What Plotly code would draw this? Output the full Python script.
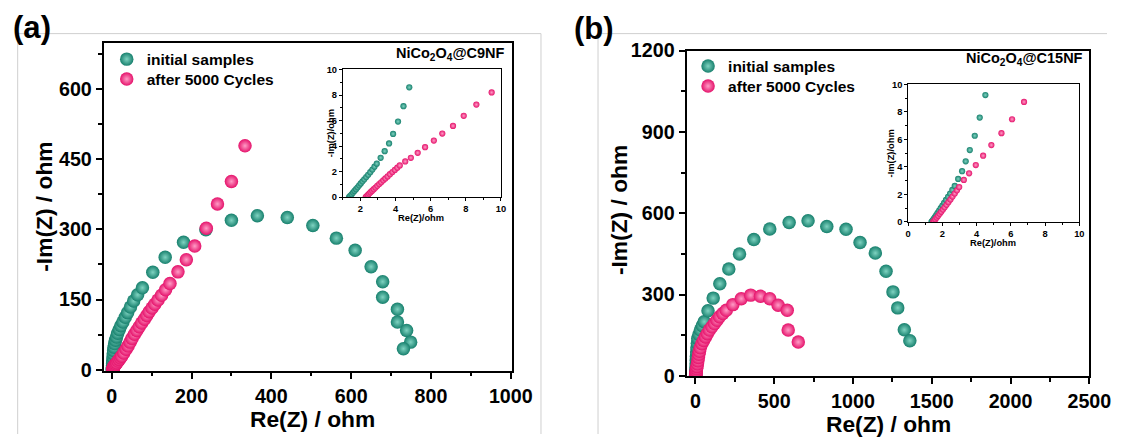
import plotly.graph_objects as go

# ---------------- data: panel (a) NiCo2O4@C9NF ----------------
a_init_re = [1.5, 1.6, 1.8, 2.0, 2.3, 2.7, 3.2, 3.9, 4.8, 6, 7.5, 9.5, 12, 15, 19, 23, 28, 34, 40, 47, 55, 65, 77,
             103, 134, 180, 236, 300, 365, 440, 504, 563, 610, 650, 679, 679, 716, 716, 739, 749, 731]
a_init_im = [0.3, 2, 5, 9, 14, 20, 27, 34, 41, 48, 56, 63, 70, 78, 86, 94, 102, 112, 122, 134, 147, 160, 175,
             208, 240, 272, 299, 319, 329, 325, 308, 281, 255, 220, 188, 155, 129, 102, 84, 59, 45]

a_aged_re = [2.3, 2.5, 2.8, 3.2, 3.8, 4.6, 5.6, 7, 8.7, 10.7, 13, 16, 19, 22, 25, 30, 36, 41, 46, 51, 57, 63, 69,
             75, 82, 88, 94, 101, 108, 116, 125, 135, 146, 166, 187, 208, 237, 265, 300, 334]
a_aged_im = [0.2, 0.8, 1.6, 2.6, 3.8, 5.2, 6.8, 8.6, 10.6, 12.8, 15, 18.5, 22, 25.5, 29, 36, 44, 51, 59, 67, 76, 84, 92,
             100, 108, 116, 124, 132, 140, 149, 159, 171, 184, 209, 235, 264, 302, 354, 402, 478]

# inset (a)
ia_init_re = [1.35, 1.42, 1.5, 1.58, 1.66, 1.75, 1.84, 1.93, 2.02, 2.12, 2.22, 2.33, 2.44, 2.56, 2.68, 2.8, 2.93,
              3.15, 3.38, 3.63, 3.86, 4.14, 4.45, 4.78]
ia_init_im = [0.0, 0.1, 0.22, 0.35, 0.48, 0.62, 0.77, 0.92, 1.07, 1.23, 1.39, 1.57, 1.75, 1.95, 2.16, 2.38, 2.62,
              3.08, 3.6, 4.2, 4.95, 5.92, 7.12, 8.6]
ia_aged_re = [2.3, 2.36, 2.43, 2.5, 2.58, 2.67, 2.76, 2.86, 2.96, 3.07, 3.18, 3.3, 3.42, 3.55, 3.68, 3.82, 3.96, 4.1,
              4.24, 4.55, 4.87, 5.26, 5.68, 6.18, 6.66, 7.27, 7.88, 8.6, 9.47]
ia_aged_im = [0.0, 0.08, 0.17, 0.27, 0.38, 0.5, 0.62, 0.75, 0.88, 1.02, 1.16, 1.31, 1.46, 1.62, 1.79, 1.96, 2.13, 2.3,
              2.48, 2.79, 3.08, 3.47, 3.91, 4.43, 4.98, 5.58, 6.37, 7.25, 8.2]

# ---------------- data: panel (b) NiCo2O4@C15NF ----------------
b_init_re = [1.4, 1.6, 2, 2.5, 3, 3.8, 4.6, 5.5, 6.5, 8, 10, 12.5, 15, 23, 32, 44, 56, 80, 113, 155, 212, 280, 371,
             472, 595, 715, 834, 956, 1045, 1142, 1210, 1254, 1284, 1326, 1361]
b_init_im = [0.3, 3, 8, 15, 23, 33, 45, 58, 72, 88, 104, 121, 138, 153, 169, 185, 200, 240, 287, 340, 394, 450, 503,
             542, 566, 572, 551, 541, 492, 453, 386, 310, 251, 170, 130]

b_aged_re = [1.5, 1.8, 2.3, 3, 4, 5.5, 7.5, 10, 13, 16, 19, 22, 26, 31, 41, 52, 64, 76, 89, 105, 121, 137, 153, 174,
             196, 238, 291, 351, 413, 472, 525, 583, 589, 653]
b_aged_im = [0.3, 2, 5, 9, 14, 20, 27, 35, 45, 56, 68, 80, 91, 104, 119, 131, 144, 156, 169, 181, 193, 205, 218, 230,
             242, 263, 285, 298, 294, 285, 261, 242, 169, 125]

# inset (b)
ib_init_re = [1.36, 1.42, 1.49, 1.56, 1.64, 1.72, 1.81, 1.9, 2.0, 2.1, 2.21, 2.33, 2.45, 2.58, 2.72,
              2.92, 3.15, 3.36, 3.6, 3.89, 4.18, 4.51]
ib_init_im = [0.0, 0.1, 0.22, 0.35, 0.5, 0.66, 0.83, 1.0, 1.19, 1.39, 1.6, 1.83, 2.07, 2.33, 2.62,
              3.13, 3.69, 4.41, 5.23, 6.27, 7.59, 9.23]
ib_aged_re = [1.46, 1.52, 1.59, 1.67, 1.75, 1.84, 1.93, 2.03, 2.13, 2.24, 2.35, 2.47, 2.59, 2.72, 2.85, 2.98,
              3.25, 3.56, 3.95, 4.38, 4.86, 5.45, 6.07, 6.77]
ib_aged_im = [0.0, 0.09, 0.2, 0.32, 0.45, 0.59, 0.74, 0.9, 1.07, 1.25, 1.44, 1.64, 1.85, 2.07, 2.3, 2.54,
              3.06, 3.54, 4.14, 4.82, 5.59, 6.46, 7.47, 8.73]

series_names = ["initial samples", "after 5000 Cycles"]
sample_labels = ["NiCo<sub>2</sub>O<sub>4</sub>@C9NF", "NiCo<sub>2</sub>O<sub>4</sub>@C15NF"]
panel_labels = ["(a)", "(b)"]

TEAL, TEAL_HI = "#17806d", "#7fd3c1"
PINK, PINK_HI = "#e5126b", "#ff9cc6"
FONT = "Liberation Sans, Arial, sans-serif"

# ---- layout geometry: reference-picture pixels -> figure paper coordinates ----
BODY = 8                      # default page body margin
SX, OX = 0.978, 2.5           # observed page -> picture mapping
SY, OY = 0.955, 8.7
FW, FH = 1120, 436            # figure size
FS = 1 / 0.965                # compensate overall shrink for font / marker sizes


def px(xr):
    return ((xr - OX) / SX - BODY) / FW


def py(yr):
    return 1 - ((yr - OY) / SY - BODY) / FH


def mk(color, hi, size):
    return dict(color=color, size=size * FS, line=dict(width=0),
                gradient=dict(type="radial", color=hi))


fig = go.Figure()

# panel (a)
fig.add_trace(go.Scatter(x=a_init_re, y=a_init_im, mode="markers", name=series_names[0],
                         marker=mk(TEAL, TEAL_HI, 13), xaxis="x", yaxis="y", legend="legend2"))
fig.add_trace(go.Scatter(x=a_aged_re, y=a_aged_im, mode="markers", name=series_names[1],
                         marker=mk(PINK, PINK_HI, 13), xaxis="x", yaxis="y", legend="legend3"))
fig.add_trace(go.Scatter(x=ia_init_re, y=ia_init_im, mode="markers", showlegend=False,
                         marker=mk(TEAL, TEAL_HI, 6), xaxis="x3", yaxis="y3"))
fig.add_trace(go.Scatter(x=ia_aged_re, y=ia_aged_im, mode="markers", showlegend=False,
                         marker=mk(PINK, PINK_HI, 6), xaxis="x3", yaxis="y3"))
# panel (b)
fig.add_trace(go.Scatter(x=b_init_re, y=b_init_im, mode="markers", name=series_names[0],
                         marker=mk(TEAL, TEAL_HI, 13), xaxis="x2", yaxis="y2", legend="legend4"))
fig.add_trace(go.Scatter(x=b_aged_re, y=b_aged_im, mode="markers", name=series_names[1],
                         marker=mk(PINK, PINK_HI, 13), xaxis="x2", yaxis="y2", legend="legend5"))
fig.add_trace(go.Scatter(x=ib_init_re, y=ib_init_im, mode="markers", showlegend=False,
                         marker=mk(TEAL, TEAL_HI, 6), xaxis="x4", yaxis="y4"))
fig.add_trace(go.Scatter(x=ib_aged_re, y=ib_aged_im, mode="markers", showlegend=False,
                         marker=mk(PINK, PINK_HI, 6), xaxis="x4", yaxis="y4"))


def xd(a, b):
    return [px(a), px(b)]


def yd(top, bottom):
    return [py(bottom), py(top)]


def main_axis(domain, rng, dtick, minor, anchor):
    return dict(domain=domain, range=rng, anchor=anchor, showgrid=False, zeroline=False,
                showline=True, linecolor="black", linewidth=2, mirror=True,
                ticks="outside", ticklen=6, tickwidth=2, tickcolor="black",
                tick0=0, dtick=dtick,
                minor=dict(dtick=minor, tick0=0, ticks="outside", ticklen=3.5, tickwidth=1.5,
                           tickcolor="black", showgrid=False),
                tickfont=dict(family=FONT, size=19 * FS, color="black", weight="bold"))


def inset_axis(domain, rng, anchor):
    return dict(domain=domain, range=rng, anchor=anchor, showgrid=False, zeroline=False,
                showline=True, linecolor="black", linewidth=1, mirror=True,
                ticks="outside", ticklen=3, tickwidth=1, tickcolor="black",
                tick0=0, dtick=2,
                minor=dict(dtick=1, tick0=0, ticks="outside", ticklen=2, tickwidth=1,
                           tickcolor="black", showgrid=False),
                tickfont=dict(family=FONT, size=9 * FS, color="black", weight="bold"))


def leg(xr, yr):
    return dict(x=px(xr), y=py(yr), xanchor="left", yanchor="middle", bgcolor="rgba(0,0,0,0)",
                font=dict(family=FONT, size=15 * FS, color="black", weight="bold"),
                itemsizing="trace", borderwidth=0)


fig.update_layout(
    width=FW, height=FH, margin=dict(l=0, r=0, t=0, b=0),
    paper_bgcolor="white", plot_bgcolor="white",
    xaxis=main_axis(xd(103, 511), [-20, 1003], 200, 100, "y"),
    yaxis=main_axis(yd(40.2, 369.5), [-2.6, 698], 150, 75, "x"),
    xaxis2=main_axis(xd(685.5, 1088), [-56, 2500], 500, 250, "y2"),
    yaxis2=main_axis(yd(48, 375), [-2, 1200], 300, 150, "x2"),
    xaxis3=inset_axis(xd(342, 500), [1, 10], "y3"),
    yaxis3=inset_axis(yd(67, 195), [0, 10], "x3"),
    xaxis4=inset_axis(xd(907, 1078), [0, 10], "y4"),
    yaxis4=inset_axis(yd(82, 220), [0, 10], "x4"),
    legend2=leg(106, 57),
    legend3=leg(106, 77),
    legend4=leg(687, 64),
    legend5=leg(687, 84),
    showlegend=True,
)

ann = []


def A(text, x, y, size, angle=0, xanchor="center"):
    ann.append(dict(text=text, x=px(x), y=py(y), xref="paper", yref="paper", showarrow=False,
                    xanchor=xanchor, yanchor="middle", textangle=angle,
                    font=dict(family=FONT, size=size * FS, color="black", weight="bold")))


A("Re(Z) / ohm", 312, 418, 22)
A("-Im(Z) / ohm", 43, 205, 22, angle=-90)
A("Re(Z) / ohm", 887, 423, 22)
A("-Im(Z) / ohm", 618, 208, 22, angle=-90)
A("Re(Z)/ohm", 420, 216.5, 9)
A("-Im(Z)/ohm", 330, 131, 9, angle=-90)
A("Re(Z)/ohm", 992, 241, 9)
A("-Im(Z)/ohm", 890, 151, 9, angle=-90)
A(sample_labels[0], 506, 51, 14, xanchor="right")
A(sample_labels[1], 1084, 56, 14, xanchor="right")
A(panel_labels[0], 31, 25, 30)
A(panel_labels[1], 593, 26, 30)
fig.update_layout(annotations=ann)

# faint frame lines of the original figure panels
grey = dict(color="#cfcfcf", width=1)


def hline(x0, x1, y):
    return dict(type="line", xref="paper", yref="paper", x0=px(x0), x1=min(px(x1), 1), y0=py(y), y1=py(y),
                line=grey, layer="below")


def vline(x, y0):
    return dict(type="line", xref="paper", yref="paper", x0=px(x), x1=px(x), y0=0, y1=py(y0),
                line=grey, layer="below")


fig.update_layout(shapes=[hline(17, 540, 31), vline(17, 31), vline(540, 31),
                          hline(597, 1121, 31), vline(597, 31)])

fig.write_html("out.html")
